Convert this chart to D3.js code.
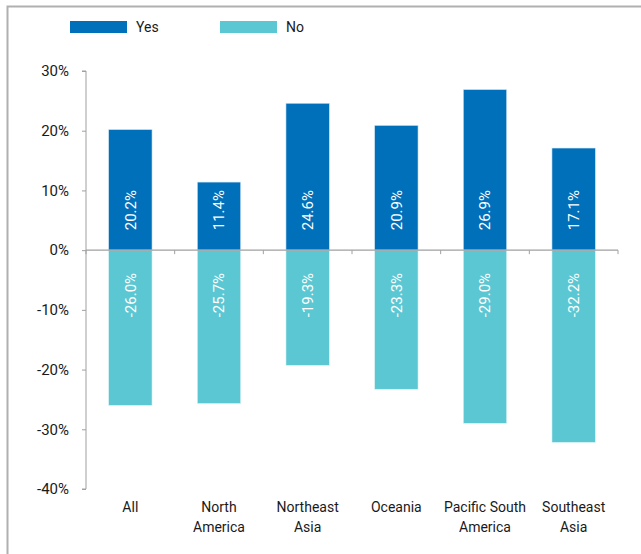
<!DOCTYPE html>
<html>
<head>
<meta charset="utf-8">
<script src="https://cdn.jsdelivr.net/npm/d3@7/dist/d3.min.js"></script>
<style>
  body { margin: 0; background: #fff; }
  svg text { font-family: Roboto, "Liberation Sans", sans-serif; fill: #1a1a1a; }
</style>
</head>
<body>
<svg id="chart" width="641" height="554"></svg>
<script>
// Regions and shares answering yes / no
const categories = ["All", "North America", "Northeast Asia", "Oceania", "Pacific South America", "Southeast Asia"];
const categoryLines = [["All"], ["North", "America"], ["Northeast", "Asia"], ["Oceania"], ["Pacific South", "America"], ["Southeast", "Asia"]];
const yesValues = [20.2, 11.4, 24.6, 20.9, 26.9, 17.1];
const noValues = [-26.0, -25.7, -19.3, -23.3, -29.0, -32.2];
const yTicks = [30, 20, 10, 0, -10, -20, -30, -40];
const seriesNames = ["Yes", "No"];
const seriesColors = ["#0070bb", "#5bc7d3"];

const svg = d3.select("#chart");

// outer frame (top and left edges)
svg.append("path")
  .attr("d", "M7.5,554 V6.5 H641")
  .attr("fill", "none")
  .attr("stroke", "#b0b0b0")
  .attr("stroke-width", 2);

const x = d3.scaleBand().domain(categories).range([86, 618]).paddingInner(0.51).paddingOuter(0.255);
const y = d3.scaleLinear().domain([-40, 30]).range([489, 71]);

// y axis
const yAxis = svg.append("g")
  .attr("transform", "translate(86,0)")
  .call(d3.axisLeft(y).tickValues(yTicks).tickSize(4).tickPadding(13).tickFormat(d => d + "%"));
yAxis.selectAll("path, line").attr("stroke", "#a0a0a0");
yAxis.select(".domain").attr("d", "M-4," + y(30) + "H0V" + y(-40) + "H-4");
yAxis.selectAll("text").attr("font-size", 15).attr("fill", "#1a1a1a");

// bars
const yesG = svg.append("g");
const noG = svg.append("g");
yesG.selectAll("rect").data(yesValues).join("rect")
  .attr("x", (d, i) => x(categories[i]))
  .attr("width", x.bandwidth())
  .attr("y", d => y(d))
  .attr("height", d => y(0) - y(d))
  .attr("fill", seriesColors[0])
  .attr("stroke", "#d8eaf6").attr("stroke-width", 0.6);
noG.selectAll("rect").data(noValues).join("rect")
  .attr("x", (d, i) => x(categories[i]))
  .attr("width", x.bandwidth())
  .attr("y", y(0))
  .attr("height", d => y(d) - y(0))
  .attr("fill", seriesColors[1])
  .attr("stroke", "#e2f5f7").attr("stroke-width", 0.6);

// zero line with category separators
const zero = y(0);
const sepX = d3.range(categories.length + 1).map(i => 86 + i * x.step());
svg.append("line")
  .attr("x1", 86).attr("x2", 618).attr("y1", zero).attr("y2", zero)
  .attr("stroke", "#a0a0a0").attr("stroke-width", 1.2);
svg.selectAll(".sep").data(sepX).join("line")
  .attr("class", "sep")
  .attr("x1", d => d).attr("x2", d => d)
  .attr("y1", zero).attr("y2", zero + 4)
  .attr("stroke", "#a0a0a0");

// value labels inside bars, at a fixed distance from the zero line
function valueLabels(values) {
  svg.append("g").selectAll("text").data(values).join("text")
    .attr("transform", (d, i) => {
      const cx = x(categories[i]) + x.bandwidth() / 2;
      const cy = d >= 0 ? zero - 40 : zero + 45;
      return `translate(${cx},${cy}) rotate(-90)`;
    })
    .attr("text-anchor", "middle")
    .attr("dy", "0.35em")
    .attr("font-size", 15)
    .style("fill", "#ffffff")
    .text(d => d.toFixed(1) + "%");
}
valueLabels(yesValues);
valueLabels(noValues);

// category labels
svg.append("g").selectAll("text").data(categoryLines).join("text")
  .attr("x", (d, i) => x(categories[i]) + x.bandwidth() / 2)
  .attr("y", 512)
  .attr("text-anchor", "middle")
  .attr("font-size", 14)
  .each(function(lines) {
    d3.select(this).selectAll("tspan").data(lines).join("tspan")
      .attr("x", d3.select(this).attr("x"))
      .attr("dy", (d, j) => j === 0 ? 0 : 20)
      .text(d => d);
  });

// legend
const legend = svg.append("g");
seriesNames.forEach((name, i) => {
  const lx = 70 + i * 150;
  legend.append("rect").attr("x", lx).attr("y", 21).attr("width", 57).attr("height", 12).attr("fill", seriesColors[i]);
  legend.append("text").attr("x", lx + 66).attr("y", 32).attr("font-size", 14).text(name);
});
</script>
</body>
</html>
